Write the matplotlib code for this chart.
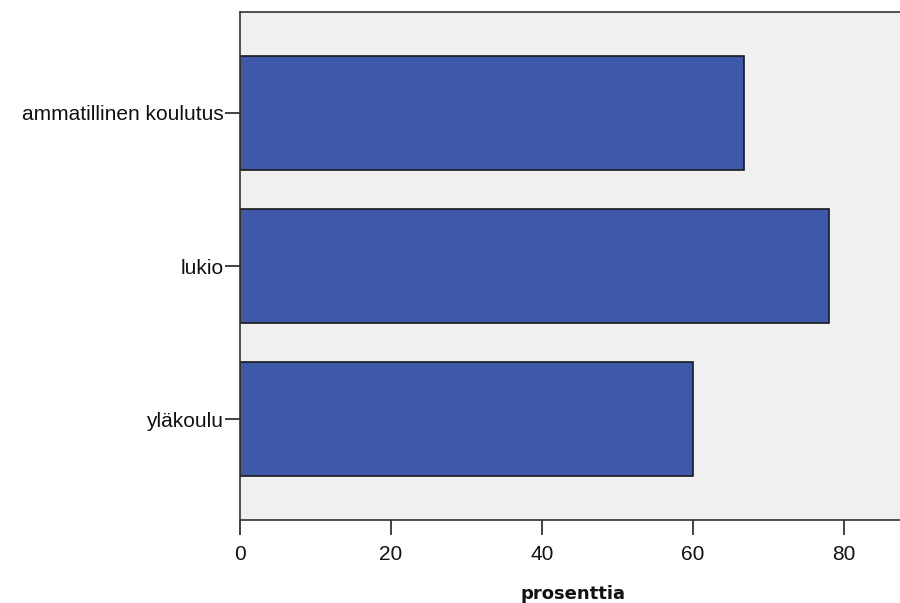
import matplotlib
matplotlib.use("Agg")
import matplotlib.pyplot as plt

# data
categories = ["ammatillinen koulutus", "lukio", "yläkoulu"]
values = [66.7, 78.0, 60.0]
xticks = [0, 20, 40, 60, 80]

bg = "#f0f0f0"
barcol = "#3e58aa"

fig = plt.figure(figsize=(9, 6.03), dpi=100)
ax = fig.add_axes([240/900, 83/603, 0.74, 508/603])
ax.set_facecolor(bg)

ypos = list(range(len(categories)))
ax.barh(ypos, values, height=0.74, color=barcol, edgecolor="#1a1a1a", linewidth=1.2)

ax.set_ylim(len(categories) - 1 + 0.66, -0.66)
ax.set_xlim(0, 88.2)
ax.set_yticks(ypos)
ax.set_yticklabels(categories, fontsize=15, family=["Liberation Sans", "DejaVu Sans"],
                   color="#111111")
ax.set_xticks(xticks)
ax.set_xticklabels([str(t) for t in xticks], fontsize=15,
                   family=["Liberation Sans", "DejaVu Sans"], color="#111111")
ax.tick_params(axis="y", length=11, width=1.2, color="#222222", pad=1)
ax.tick_params(axis="x", length=11, width=1.2, color="#222222", pad=7)

for s in ["left", "bottom", "top"]:
    ax.spines[s].set_color("#333333")
    ax.spines[s].set_linewidth(1.2)
ax.spines["right"].set_visible(False)

ax.set_xlabel("prosenttia", fontsize=13, fontweight="bold", labelpad=15,
              family=["DejaVu Sans"], color="#111111")

fig.savefig("out.png", dpi=100)
